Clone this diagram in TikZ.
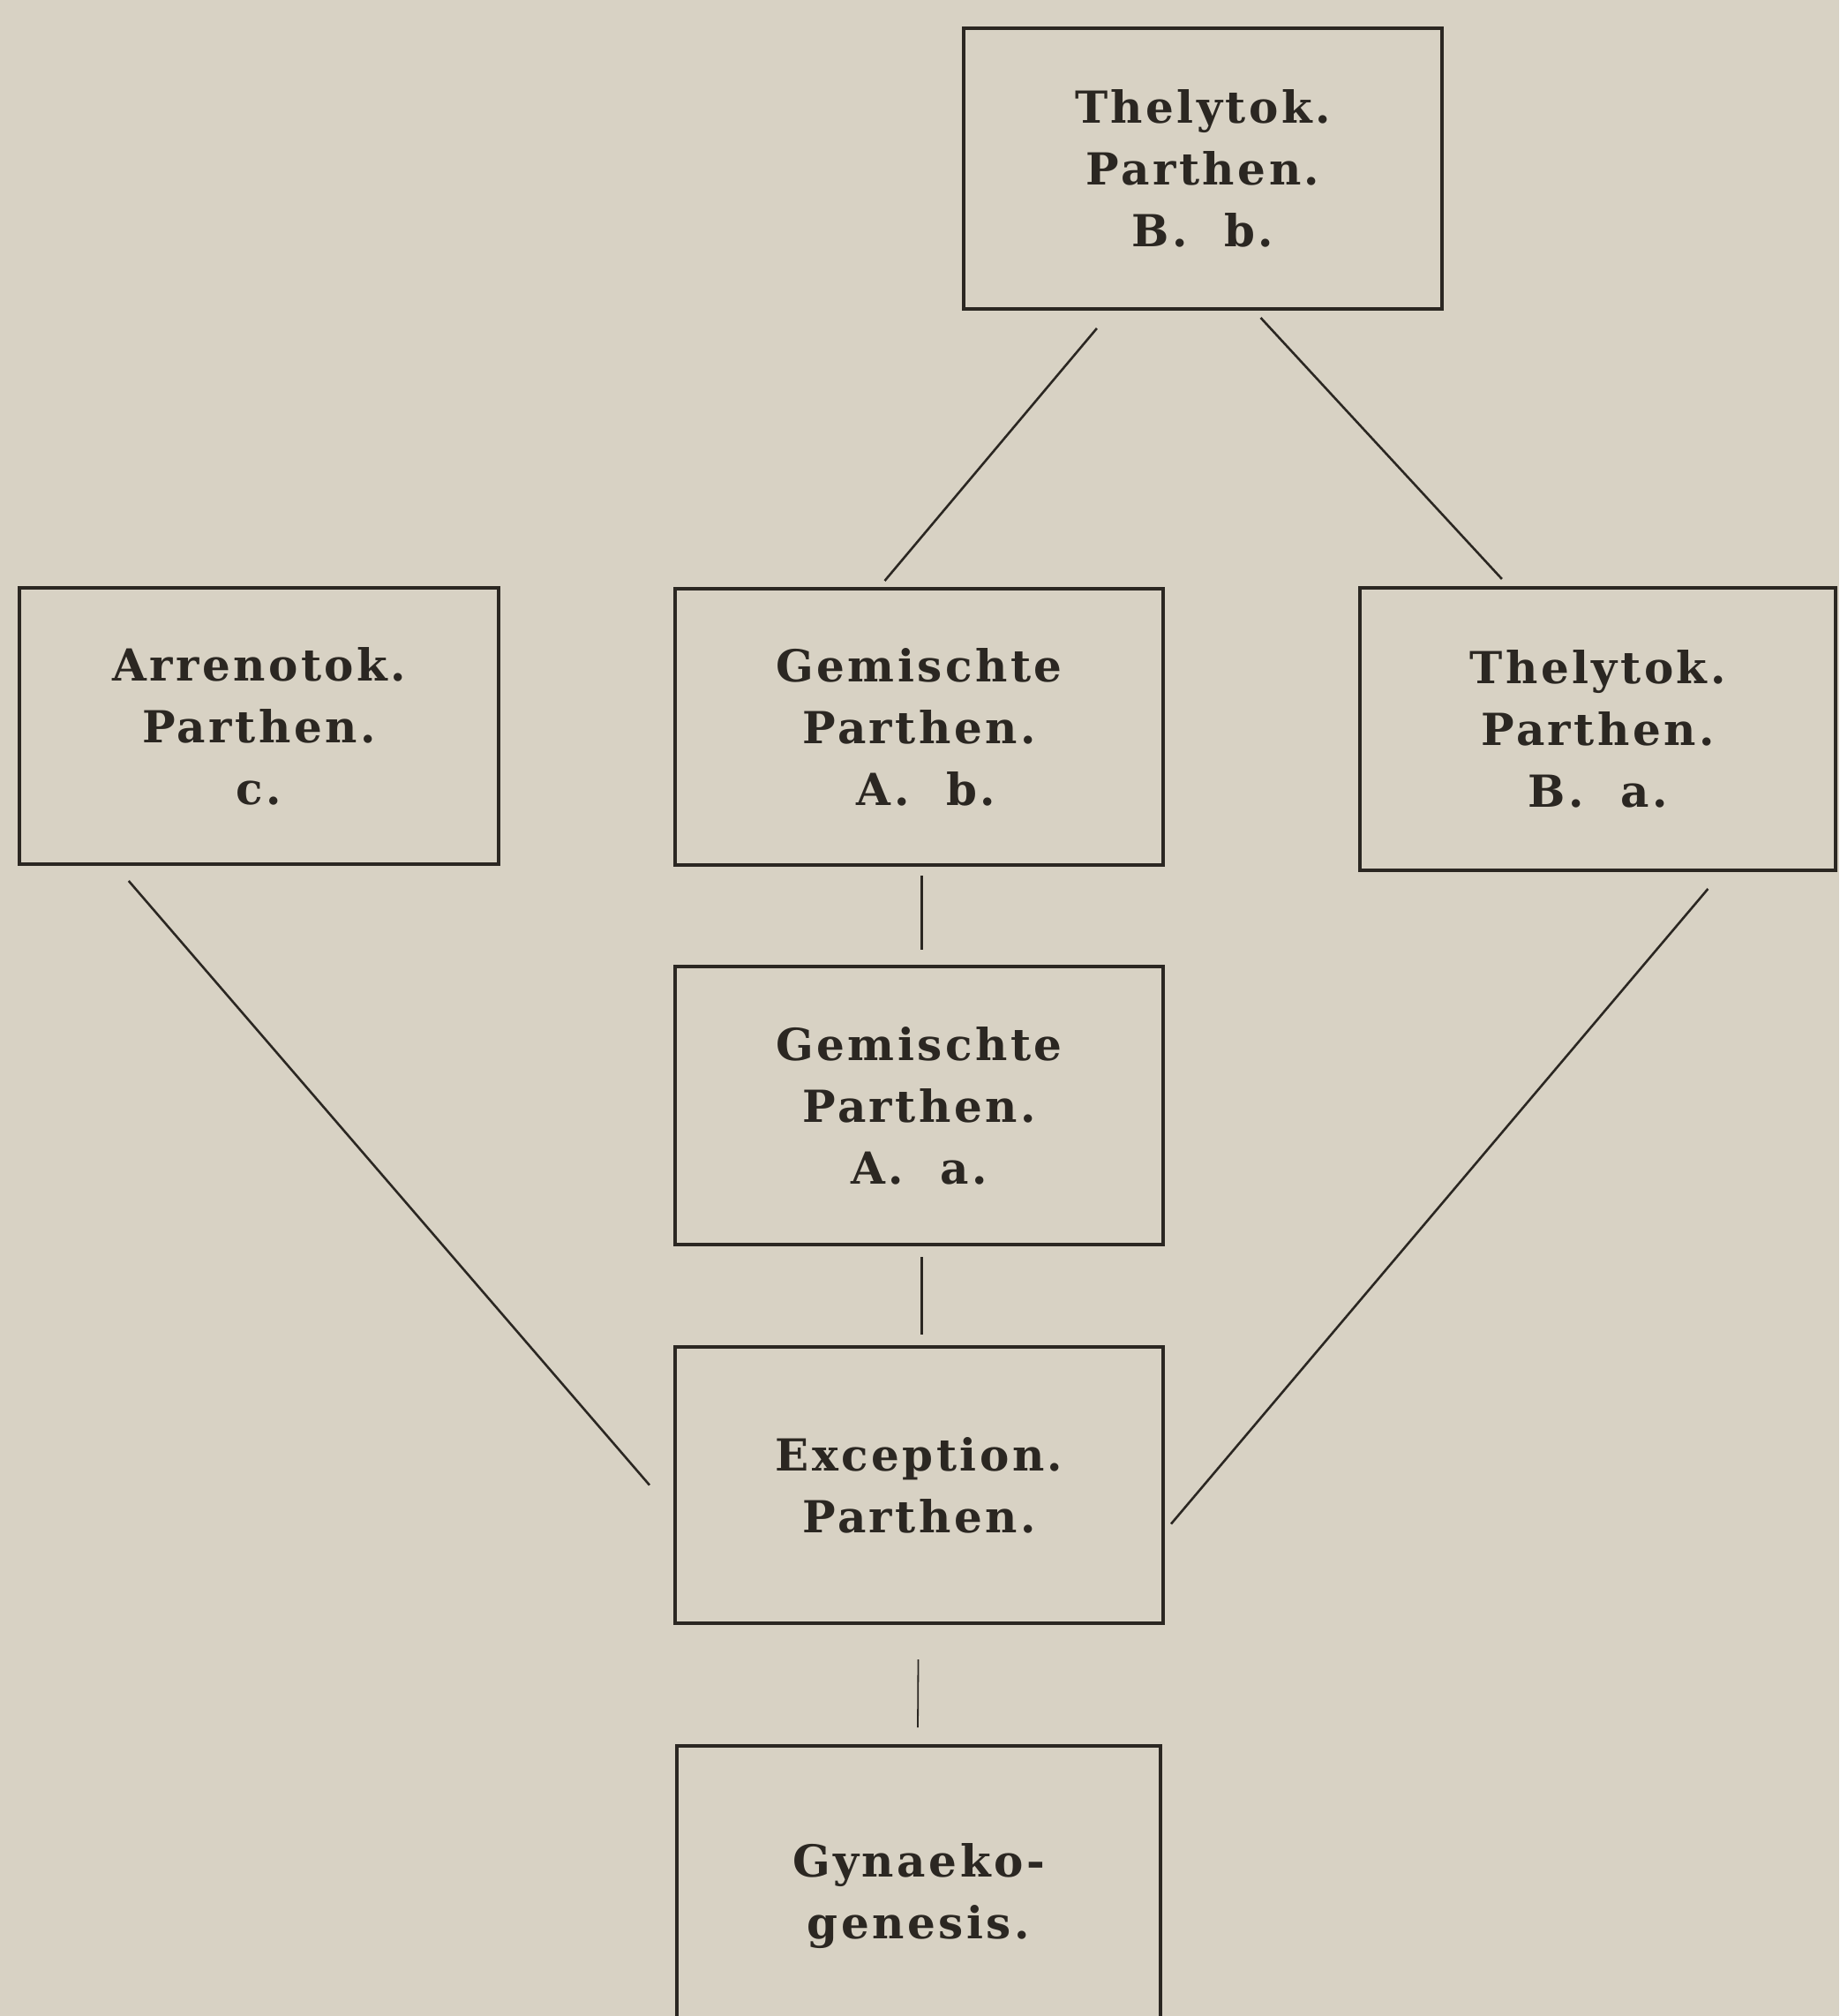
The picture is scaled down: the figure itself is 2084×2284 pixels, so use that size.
\documentclass[tikz,border=0pt]{standalone}
\usepackage{fontspec}
\setmainfont{DejaVu Serif}[BoldFont={DejaVu Serif Bold}]
\newfontfamily\boxfont{DejaVu Serif Bold}[LetterSpace=7]
\usetikzlibrary{calc}
\definecolor{paper}{HTML}{D8D2C4}
\definecolor{ink}{HTML}{2B2722}
\tikzset{
  box/.style={draw=ink, line width=2pt, minimum width=#1, inner sep=0pt, align=center,
    font=\boxfont\fontsize{25}{35}\selectfont, text=ink},
  conn/.style={draw=ink, line width=1.3pt},
}
\begin{document}
\begin{tikzpicture}[x=0.5pt,y=-0.5pt]
\fill[paper] (0,0) rectangle (2084,2284);
\useasboundingbox (0,0) rectangle (2084,2284);
\clip (0,0) rectangle (2084,2284);
\node[box=271pt, minimum height=159pt] (top) at (1363,191) {Thelytok.\\Parthen.\\B.~~b.};
\node[box=271.5pt, minimum height=156.5pt] (left) at (293.5,822.5) {Arrenotok.\\Parthen.\\c.};
\node[box=276.5pt, minimum height=156.5pt] (ab) at (1041.5,823.5) {Gemischte\\Parthen.\\\hspace*{8pt}A.~~b.};
\node[box=269.5pt, minimum height=160pt] (right) at (1810.5,826) {Thelytok.\\Parthen.\\B.~~a.};
\node[box=276.5pt, minimum height=157.5pt] (aa) at (1041.5,1252.5) {Gemischte\\Parthen.\\A.~~a.};
\node[box=276.5pt, minimum height=156.5pt] (exc) at (1041.5,1682.5) {Exception.\\Parthen.};
\node[box=274pt, minimum height=170pt] (gyn) at (1041,2148) {Gynaeko-\\genesis.};
% connectors
\draw[conn] ($(top.south west)!0.28!(top.south east)+(0,20)$) -- ($(ab.north west)!0.43!(ab.north east)+(0,-7)$);
\draw[conn] ($(top.south west)!0.62!(top.south east)+(0,8)$) -- ($(right.north west)!0.30!(right.north east)+(0,-8)$);
\draw[conn] ($(left.south west)!0.23!(left.south east)+(0,17)$) -- ($(exc.west)+(-27,0)$);
\draw[conn] ($(right.south west)!0.73!(right.south east)+(0,19)$) -- ($(exc.east)+(7,44)$);
\draw[conn] ($(ab.south)+(3,10)$) -- ($(aa.north)+(3,-17)$);
\draw[conn] ($(aa.south)+(3,12)$) -- ($(exc.north)+(3,-12)$);
\draw[conn, line width=0.9pt] ($(exc.south)+(-1,39)$) -- ($(gyn.north)+(-1,-19)$);
\end{tikzpicture}
\end{document}
